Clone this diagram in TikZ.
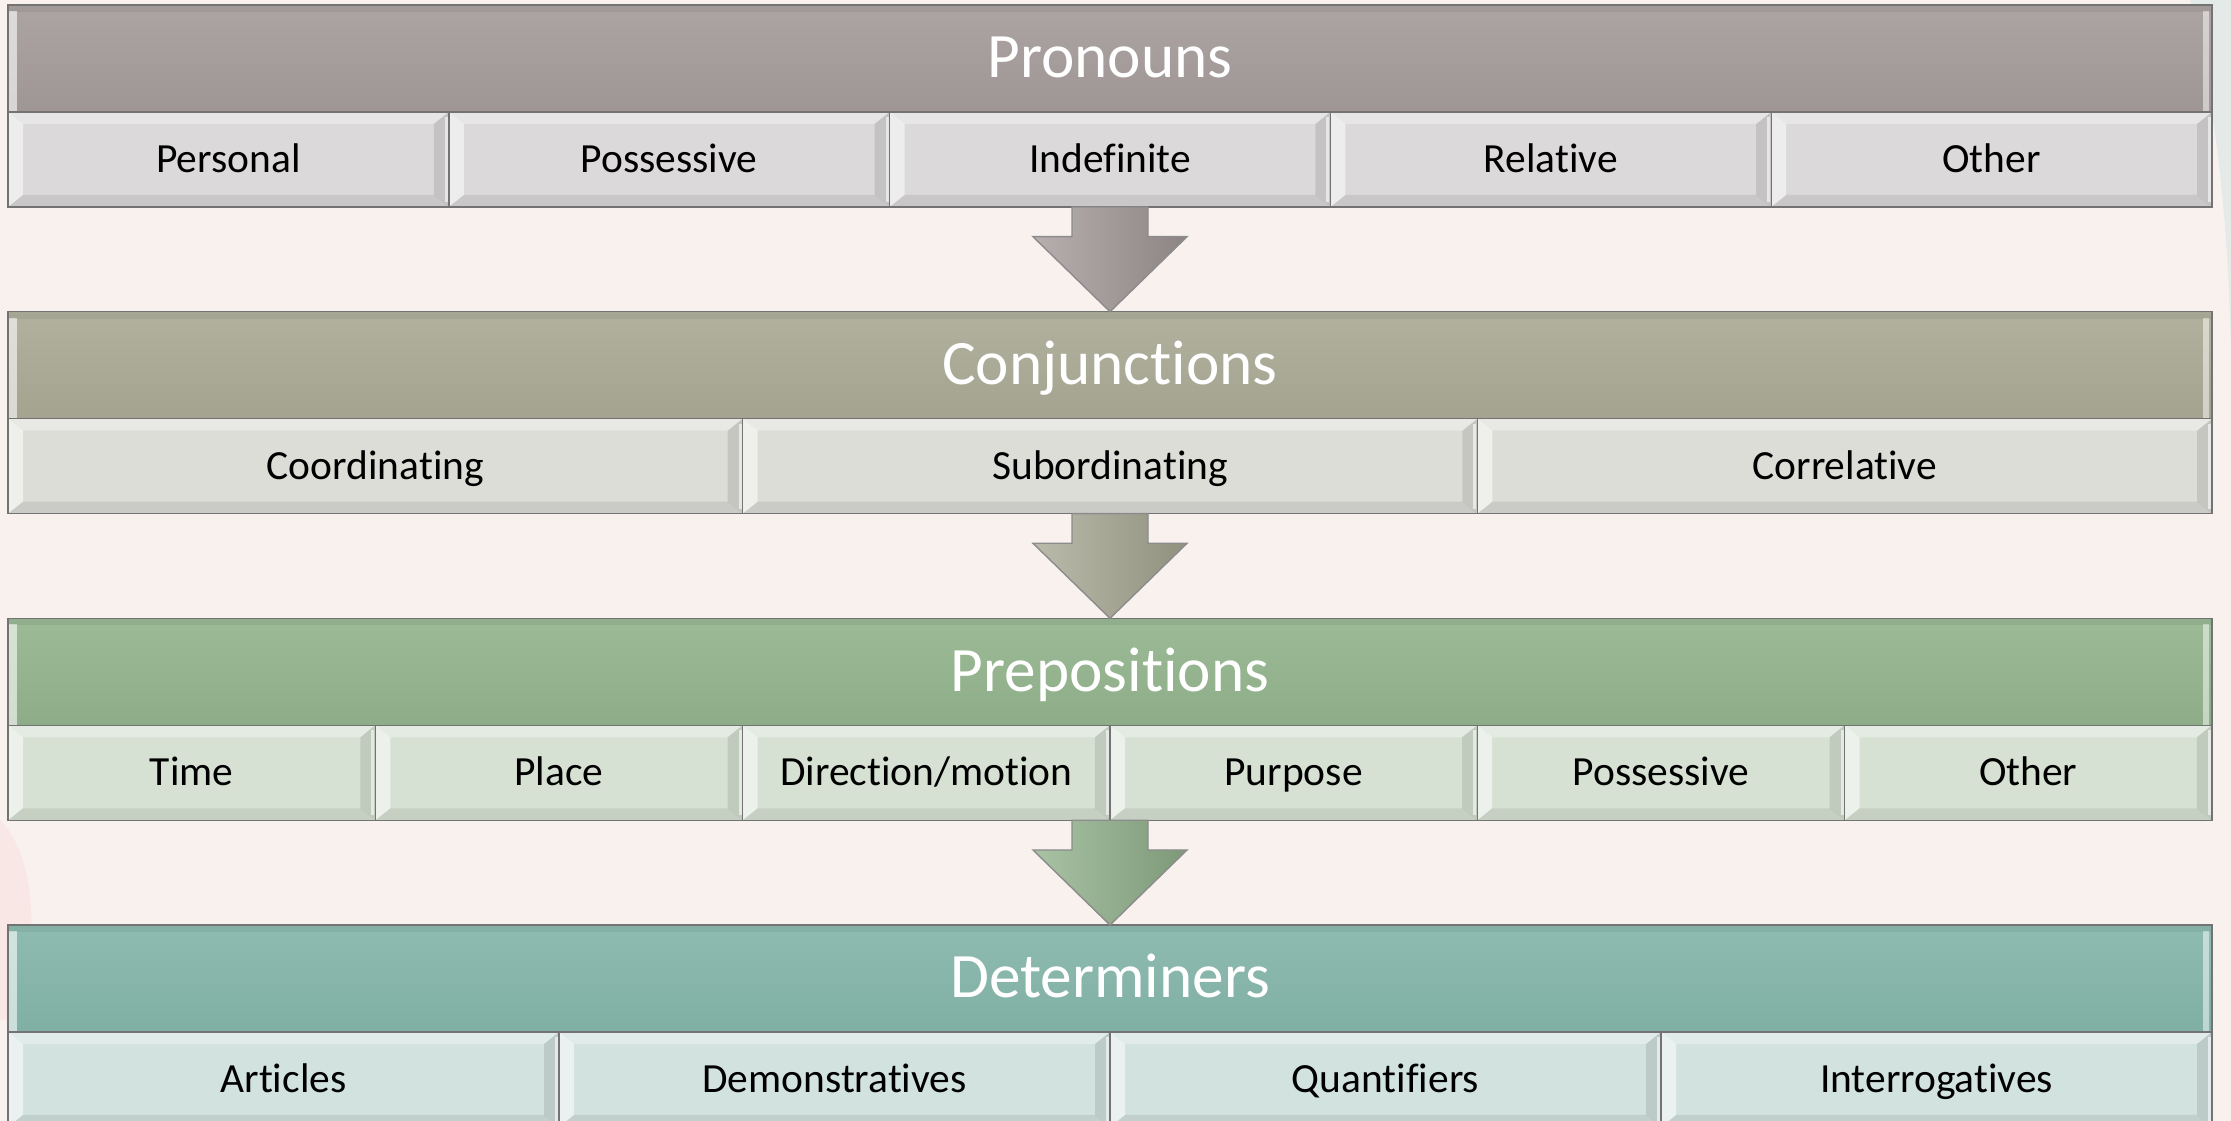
\documentclass[tikz,border=0pt]{standalone}
\usepackage{fontspec}
\setmainfont{Carlito}[Ligatures=NoCommon]
\usepackage{tikz}
\usetikzlibrary{positioning,calc}
\usepackage{xcolor}
\definecolor{paper}{HTML}{F8F1EE}
\definecolor{prncol}{HTML}{A59C9B}
\definecolor{prnsub}{HTML}{DBD9D9}
\definecolor{cnjcol}{HTML}{AAAA96}
\definecolor{cnjsub}{HTML}{DCDDD7}
\definecolor{prpcol}{HTML}{93B48D}
\definecolor{prpsub}{HTML}{D6E1D3}
\definecolor{detcol}{HTML}{85B6AA}
\definecolor{detsub}{HTML}{D2E2DF}

\tikzset{
    bevel/.style={path picture={
        \coordinate (nw) at (path picture bounding box.north west);
        \coordinate (ne) at (path picture bounding box.north east);
        \coordinate (sw) at (path picture bounding box.south west);
        \coordinate (se) at (path picture bounding box.south east);
        \fill[white,opacity=.55] (nw) -- (sw) -- ($(sw)+(.15,.12)$) -- ($(nw)+(.15,-.12)$) -- cycle;
        \fill[white,opacity=.35] (nw) -- (ne) -- ($(ne)+(-.15,-.12)$) -- ($(nw)+(.15,-.12)$) -- cycle;
        \fill[black,opacity=.10] (ne) -- (se) -- ($(se)+(-.15,.12)$) -- ($(ne)+(-.15,-.12)$) -- cycle;
        \fill[white,opacity=.6] ($(ne)+(-.04,-.05)$) rectangle ($(se)+(-.01,.05)$);
        \fill[black,opacity=.08] (sw) -- (se) -- ($(se)+(-.15,.12)$) -- ($(sw)+(.15,.12)$) -- cycle;
    }},
    headbevel/.style={path picture={
        \fill[white,opacity=.6] ($(path picture bounding box.north west)+(.01,-.06)$) rectangle ($(path picture bounding box.south west)+(.09,0)$);
        \fill[white,opacity=.5] ($(path picture bounding box.north east)+(-.09,-.06)$) rectangle ($(path picture bounding box.south east)+(-.03,0)$);
        \fill[black,opacity=.06] (path picture bounding box.north west) rectangle ($(path picture bounding box.north east)+(0,-.07)$);
    }},
    head/.style={draw=black!55,top color=#1!92!white,bottom color=#1!96!black,minimum width=22.04cm,minimum height=1.07cm,
        inner sep=0pt,outer sep=0pt,text=white,font=\fontsize{18}{22}\selectfont,text height=11pt,text depth=0pt,headbevel},
    part/.style={draw=black!55,fill=#1,minimum height=0.95cm,inner sep=0pt,outer sep=0pt,
        font=\fontsize{11.8}{14}\selectfont,text height=7.3pt,text depth=0pt,bevel},
    bigarrow/.style={draw=black!45,left color=#1!80!white,middle color=#1,right color=#1!85!black,
        to path={let \p1=(\tikztostart),\p2=(\tikztotarget) in
            (\x1-0.38cm,\y1) -- (\x1-0.38cm,\y2+0.75cm) -- (\x1-0.77cm,\y2+0.75cm) -- (\x2,\y2)
            -- (\x1+0.77cm,\y2+0.75cm) -- (\x1+0.38cm,\y2+0.75cm) -- (\x1+0.38cm,\y1) -- cycle}},
    node distance=0cm
}

\begin{document}
\begin{tikzpicture}
\clip (0,0) rectangle (22.31,-11.21);
\fill[paper] (0,0) rectangle (22.31,-11.21);
\fill[teal!25,opacity=.35] (21.9,0) .. controls (22.2,-1.2) and (22.3,-2.6) .. (22.31,-3.6) -- (22.31,0) -- cycle;
\fill[red!30,opacity=.15] (0,-8.2) .. controls (0.4,-8.6) and (0.4,-9.6) .. (0.1,-10.2) -- (0,-10.2) -- cycle;

\node[head=prncol] (prn) at (11.10,-0.585) {Pronouns};
\node[part=prnsub,minimum width=4.408cm,anchor=north west] (prn1) at (prn.south west) {Personal};
\node[part=prnsub,minimum width=4.408cm,right=of prn1] (prn2) {Possessive};
\node[part=prnsub,minimum width=4.408cm,right=of prn2] (prn3) {Indefinite};
\node[part=prnsub,minimum width=4.408cm,right=of prn3] (prn4) {Relative};
\node[part=prnsub,minimum width=4.408cm,right=of prn4] (prn5) {Other};

\node[head=cnjcol] (cnj) at (11.10,-3.652) {Conjunctions};
\node[part=cnjsub,minimum width=7.347cm,anchor=north west] (cnj1) at (cnj.south west) {Coordinating};
\node[part=cnjsub,minimum width=7.347cm,right=of cnj1] (cnj2) {Subordinating};
\node[part=cnjsub,minimum width=7.347cm,right=of cnj2] (cnj3) {Correlative};

\node[head=prpcol] (prp) at (11.10,-6.718) {Prepositions};
\node[part=prpsub,minimum width=3.673cm,anchor=north west] (prp1) at (prp.south west) {Time};
\node[part=prpsub,minimum width=3.673cm,right=of prp1] (prp2) {Place};
\node[part=prpsub,minimum width=3.673cm,right=of prp2] (prp3) {Direction/motion};
\node[part=prpsub,minimum width=3.673cm,right=of prp3] (prp4) {Purpose};
\node[part=prpsub,minimum width=3.673cm,right=of prp4] (prp5) {Possessive};
\node[part=prpsub,minimum width=3.673cm,right=of prp5] (prp6) {Other};

\node[head=detcol] (det) at (11.10,-9.785) {Determiners};
\node[part=detsub,minimum width=5.51cm,anchor=north west] (det1) at (det.south west) {Articles};
\node[part=detsub,minimum width=5.51cm,right=of det1] (det2) {Demonstratives};
\node[part=detsub,minimum width=5.51cm,right=of det2] (det3) {Quantifiers};
\node[part=detsub,minimum width=5.51cm,right=of det3] (det4) {Interrogatives};

\draw[bigarrow=prncol] (prn.south |- prn1.south) to (cnj.north);
\draw[bigarrow=cnjcol] (cnj.south |- cnj1.south) to (prp.north);
\draw[bigarrow=prpcol] (prp.south |- prp1.south) to (det.north);
\end{tikzpicture}
\end{document}
